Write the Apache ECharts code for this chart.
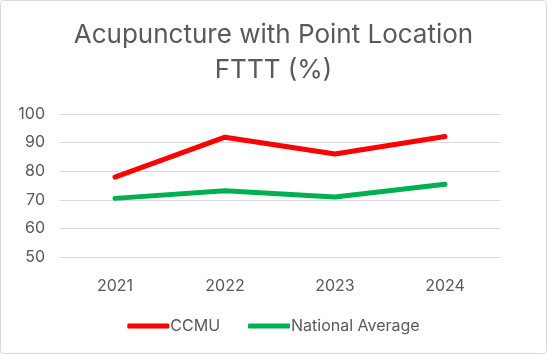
<!DOCTYPE html>
<html>
<head>
<meta charset="utf-8">
<script src="https://cdn.jsdelivr.net/npm/echarts@6/dist/echarts.min.js"></script>
<style>
    html, body {margin: 0; padding: 0; background: #fff;}
    #chart_container {width: 545px; height: 352px; border: 1px solid #d9d9d9; border-radius: 4px;}
</style>
</head>
<body>
<div id="chart_container"></div>
<script>
"use strict";
var years = ['2021', '2022', '2023', '2024'];
var ccmu = [77.9, 91.9, 86.0, 92.1];
var nationalAvg = [70.5, 73.2, 71.0, 75.4];
var yTicks = {min: 50, max: 100, interval: 10};

var myChart = echarts.init(document.getElementById('chart_container'));
var textColor = '#595959';
var option = {
    animation: false,
    title: {
        text: 'Acupuncture with Point Location\nFTTT (%)',
        left: 'center',
        top: 12,
        textStyle: {
            fontFamily: 'Inter',
            fontSize: 26,
            fontWeight: 'normal',
            color: textColor,
            lineHeight: 35
        }
    },
    legend: {
        bottom: 14,
        left: 'center',
        itemWidth: 42,
        itemHeight: 5,
        itemGap: 28,
        icon: 'roundRect',
        textStyle: {fontFamily: 'Inter', fontSize: 16, color: textColor, padding: [0, 0, 0, -4]},
        data: ['CCMU', 'National Average']
    },
    grid: {left: 59, right: 46, top: 113, bottom: 96},
    xAxis: {
        type: 'category',
        data: years,
        boundaryGap: true,
        axisLine: {show: false},
        axisTick: {show: false},
        axisLabel: {fontFamily: 'Inter', fontSize: 16, color: textColor, margin: 21}
    },
    yAxis: {
        type: 'value',
        min: yTicks.min,
        max: yTicks.max,
        interval: yTicks.interval,
        axisLine: {show: false},
        axisTick: {show: false},
        axisLabel: {fontFamily: 'Inter', fontSize: 16, color: textColor, margin: 15},
        splitLine: {lineStyle: {color: '#d9d9d9', width: 1}}
    },
    series: [
        {
            name: 'CCMU',
            type: 'line',
            data: ccmu,
            symbol: 'none',
            lineStyle: {color: '#ff0000', width: 5, cap: 'round', join: 'round'},
            itemStyle: {color: '#ff0000'}
        },
        {
            name: 'National Average',
            type: 'line',
            data: nationalAvg,
            symbol: 'none',
            lineStyle: {color: '#00b050', width: 5, cap: 'round', join: 'round'},
            itemStyle: {color: '#00b050'}
        }
    ]
};
myChart.setOption(option);
</script>
</body>
</html>
